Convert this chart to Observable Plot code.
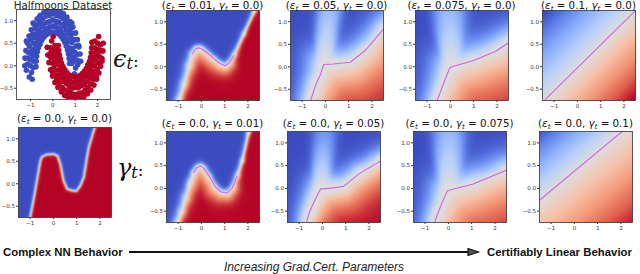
<!DOCTYPE html>
<html><head><meta charset="utf-8">
<script src="https://cdn.jsdelivr.net/npm/d3@7"></script>
<script src="https://cdn.jsdelivr.net/npm/@observablehq/plot@0.6"></script>
<style>
body{margin:0;background:#fff;}
#fig{position:relative;width:640px;height:274px;overflow:hidden;background:#fff;}
#fig svg{position:absolute;}
</style></head><body><div id="fig"></div><script>
// ---------------- data ----------------
const xTicks = [-1, 0, 1, 2];
const yTicks = [-0.5, 0, 0.5, 1.0];
const epsLabels = ["0.01", "0.05", "0.075", "0.1"];
const gamLabels = ["0.01", "0.05", "0.075", "0.1"];

const moonBlue = [[1.02,-0.05],[0.88,0.08],[1.12,0.03],[0.97,-0.18],[0.95,0.18],[1.10,0.12],[0.85,0.05],[1.05,-0.28],
[0.99,0.30],[0.84,0.20],[1.08,0.25],[0.88,0.38],[1.04,0.44],[0.80,0.30],[0.85,0.52],[0.74,0.40],[0.98,0.58],
[0.80,0.63],[0.66,0.52],[0.88,0.72],[0.70,0.72],[0.60,0.60],[0.80,0.82],[0.62,0.80],[0.52,0.68],[0.70,0.92],
[0.50,0.87],[0.44,0.74],[0.58,0.98],[0.40,0.92],[0.34,0.80],[0.45,1.05],[0.26,0.97],[0.22,0.84],[0.30,1.10],
[0.14,0.99],[0.12,0.88],[0.16,1.12],[0.00,1.02],[0.02,0.88],[-0.02,1.15],[-0.14,0.98],[-0.12,0.86],[-0.16,1.12],
[-0.26,0.96],[-0.22,0.83],[-0.30,1.10],[-0.39,0.92],[-0.34,0.80],[-0.45,1.04],[-0.50,0.87],[-0.44,0.74],[-0.58,0.98],
[-0.62,0.79],[-0.53,0.68],[-0.70,0.90],[-0.71,0.71],[-0.60,0.60],[-0.80,0.82],[-0.79,0.62],[-0.68,0.52],[-0.90,0.70],
[-0.87,0.50],[-0.75,0.42],[-0.98,0.58],[-0.93,0.37],[-0.80,0.32],[-1.05,0.44],[-0.97,0.26],[-0.85,0.22],[-1.10,0.30],
[-0.99,0.14],[-0.86,0.10],[-1.12,0.17],[-1.00,0.00],[-0.88,-0.04],[-1.12,0.04],[-0.95,-0.15],[-1.05,-0.25],[-0.92,-0.30],
[-1.18,-0.10],[0.10,1.22],[-0.30,1.20],[0.35,1.18],[0.60,1.05],[-0.60,1.08],[1.15,0.45],[-1.18,0.55],[0.85,0.95],[-0.88,0.95],
[0.75,0.05],[1.25,0.10],[0.73,0.16],[1.22,0.26],[0.70,0.26],[1.17,0.42],[0.66,0.35],[1.10,0.58],[0.60,0.44],[1.02,0.73],
[0.54,0.52],[0.90,0.86],[0.46,0.59],[0.77,0.98],[0.37,0.65],[0.63,1.08],[0.28,0.70],[0.47,1.16],[0.18,0.73],[0.30,1.21],
[0.08,0.75],[0.13,1.24],[-0.03,0.75],[-0.04,1.25],[-0.13,0.74],[-0.22,1.23],[-0.23,0.71],[-0.39,1.19],[-0.33,0.67],[-0.55,1.12],
[-0.42,0.62],[-0.70,1.04],[-0.50,0.56],[-0.84,0.93],[-0.57,0.48],[-0.96,0.80],[-0.64,0.40],[-1.06,0.66],[-0.69,0.31],[-1.14,0.51],
[-0.72,0.21],[-1.20,0.34],[-0.74,0.10],[-1.24,0.17],[-0.75,-0.02],[-1.25,0.00],[0.90,-0.22]];

const moonRed = [[-0.05,0.55],[0.10,0.45],[-0.10,0.40],[0.02,0.65],[0.05,0.34],[-0.08,0.30],[0.14,0.40],
[0.02,0.22],[0.15,0.28],[-0.08,0.18],[0.10,0.10],[0.20,0.18],[-0.02,0.06],[0.12,0.02],[0.26,0.06],[0.03,-0.06],
[0.22,-0.10],[0.34,-0.04],[0.10,-0.20],[0.28,-0.22],[0.40,-0.12],[0.18,-0.30],[0.40,-0.27],[0.48,-0.18],[0.30,-0.38],
[0.50,-0.35],[0.56,-0.25],[0.42,-0.48],[0.62,-0.40],[0.66,-0.30],[0.55,-0.54],[0.74,-0.46],[0.78,-0.34],[0.70,-0.58],
[0.86,-0.50],[0.88,-0.38],[0.84,-0.62],[1.00,-0.48],[1.02,-0.36],[0.98,-0.64],[1.14,-0.49],[1.12,-0.37],[1.16,-0.62],
[1.26,-0.45],[1.22,-0.34],[1.30,-0.60],[1.39,-0.42],[1.34,-0.30],[1.45,-0.54],[1.50,-0.36],[1.44,-0.24],[1.58,-0.48],
[1.62,-0.28],[1.53,-0.18],[1.70,-0.40],[1.71,-0.20],[1.60,-0.10],[1.82,-0.30],[1.79,-0.12],[1.68,-0.02],[1.90,-0.20],
[1.87,0.00],[1.75,0.08],[1.98,-0.08],[1.93,0.12],[1.80,0.18],[2.05,0.06],[1.97,0.24],[1.85,0.28],[2.10,0.20],
[1.99,0.36],[1.86,0.40],[2.12,0.33],[2.00,0.50],[1.88,0.55],[2.12,0.46],[2.05,0.65],[0.90,-0.72],[1.10,-0.70],
[0.60,-0.66],[1.40,-0.66],[0.75,-0.74],[1.25,-0.74],[0.00,-0.15],[1.95,-0.25],[2.20,0.10],
[0.25,0.45],[-0.25,0.41],[0.27,0.34],[-0.22,0.24],[0.30,0.24],[-0.17,0.07],[0.34,0.15],[-0.10,-0.09],[0.39,0.06],[-0.01,-0.23],
[0.46,-0.02],[0.10,-0.37],[0.54,-0.09],[0.23,-0.48],[0.63,-0.15],[0.38,-0.58],[0.72,-0.20],[0.53,-0.66],[0.82,-0.23],[0.70,-0.71],
[0.92,-0.25],[0.87,-0.74],[1.03,-0.25],[1.04,-0.75],[1.13,-0.24],[1.22,-0.73],[1.23,-0.21],[1.39,-0.69],[1.33,-0.17],[1.55,-0.62],
[1.42,-0.12],[1.70,-0.54],[1.50,-0.06],[1.84,-0.43],[1.57,0.02],[1.96,-0.30],[1.64,0.10],[2.06,-0.16],[1.69,0.19],[2.14,-0.01],
[1.72,0.29],[2.20,0.16],[1.74,0.40],[2.24,0.33],[1.75,0.52],[2.25,0.50]];

// decision boundaries (x, y), with blue-side and red-side softness along them
const bE0 = [[-1.0,-0.75],[-0.8,-0.2],[-0.65,0.25],[-0.56,0.51],[-0.49,0.60],[-0.28,0.65],[0.01,0.66],[0.18,0.62],[0.30,0.44],[0.44,0.07],[0.59,-0.11],[0.80,-0.15],[0.99,-0.16],[1.16,-0.04],[1.31,0.15],[1.42,0.51],[1.52,0.81],[1.67,1.07],[1.78,1.25]];
const bsE0 = bE0.map(() => 1.5), rsE0 = bE0.map(() => 1.5);
const bE001 = [[-0.96,-0.75],[-0.74,-0.38],[-0.53,0.03],[-0.39,0.29],[-0.24,0.40],[-0.10,0.42],[0.04,0.39],[0.26,0.30],[0.54,0.18],[0.80,0.07],[1.01,0.02],[1.19,0.08],[1.40,0.25],[1.83,0.73],[2.29,1.25]];
const bsE001 = [5,5,5,4,3,3,3,3,3,3,3,3,3,2.5,2.5];
const rsE001 = [4,5,7,9,10,10,10,10,10,9,8,6,3,2,2];
const bE005 = [[-0.64,-0.75],[-0.54,-0.60],[-0.40,-0.38],[-0.21,-0.17],[-0.07,0.05],[0.36,0.06],[1.07,0.10],[1.71,0.36],[2.5,0.84]];
const bsE005 = [12,12,13,15,20,18,16,15,15];
const rsE005 = [22,24,26,30,34,34,34,34,34];
const pE005 = [-0.07, 0.05, 0.09, 95, 4, 0.14];     // light plume above the kink: x, y, lean, strength, base width, spread
const bE0075 = [[-0.57,-0.75],[-0.43,-0.56],[-0.21,-0.26],[-0.03,-0.03],[0.07,0.0],[1.0,0.14],[1.93,0.34],[2.5,0.53]];
const bsE0075 = [14,14,15,18,22,20,18,17];
const rsE0075 = [28,30,33,38,40,40,40,40];
const pE0075 = [0.02, 0.0, -0.04, 90, 4, 0.2];
const bE01 = [[-1.5,-0.79],[2.5,1.25]];
const bsE01 = [62,62], rsE01 = [62,62];
const bG001 = [[-1.03,-0.75],[-0.86,-0.51],[-0.67,-0.21],[-0.49,0.12],[-0.34,0.35],[-0.17,0.46],[-0.03,0.49],[0.11,0.44],[0.33,0.27],[0.61,0.03],[0.86,-0.08],[1.11,-0.10],[1.33,0.01],[1.54,0.27],[1.76,0.61],[2.04,1.25]];
const bsG001 = [5,5,5,4,3,3,3,3,3,3,3,3,3,3,2.5,2.5];
const rsG001 = [4,5,6,8,10,10,10,10,10,10,9,8,6,3,2,2];
const bG005 = [[-0.69,-0.75],[-0.56,-0.53],[-0.38,-0.32],[-0.21,-0.14],[-0.07,-0.01],[0.28,0.0],[0.90,0.04],[1.60,0.33],[2.5,0.60]];
const bsG005 = [10,10,11,12,15,14,13,12,12];
const rsG005 = [15,16,18,20,22,22,22,22,22];
const pG005 = [-0.07, -0.01, 0.055, 50, 4, 0.17];
const bG0075 = [[-0.59,-0.75],[-0.44,-0.53],[-0.24,-0.28],[-0.05,-0.06],[0.02,-0.04],[1.04,0.09],[2.5,0.40]];
const bsG0075 = [13,13,14,17,20,18,17];
const rsG0075 = [30,32,35,38,40,40,40];
const pG0075 = [0.0, -0.05, 0.0, 90, 4, 0.2];
const bG01 = [[-1.5,-0.26],[2.5,1.44]];
const bsG01 = [55,55], rsG01 = [80,80];

// ---------------- helpers ----------------
const fig = document.getElementById("fig");
const coolwarm = d3.piecewise(d3.interpolateRgb, ["#3b4cc0","#6282ea","#8db0fe","#b8d0f9","#dddddd","#f5c4ac","#f49a7b","#de604d","#b40426"]);
const SX = 23.25, SY = 45;
const XD = [-1.5, 2.5], YD = [-0.75, 1.25];

function makeField(pts, bsoft, rsoft, mode, plume, smooth) {
  const P = pts.map((p, i) => [p[0]*SX, p[1]*SY, bsoft[i], rsoft[i]]);
  const n = P.length, a = P[0], b = P[1], c = P[n-2], e = P[n-1];
  const Q = [[a[0]-(b[0]-a[0])*60, a[1]-(b[1]-a[1])*60, a[2], a[3]], ...P, [e[0]+(e[0]-c[0])*60, e[1]+(e[1]-c[1])*60, e[2], e[3]]];
  const m = Q.length - 1;
  const D = new Float64Array(m), WB = new Float64Array(m), WR = new Float64Array(m);
  return (x, y) => {
    const X = x*SX, Y = y*SY;
    let yb = null;
    for (let i = 0; i < m; i++) {
      const p = Q[i], q = Q[i+1];
      if ((X >= p[0] && X <= q[0]) || (X <= p[0] && X >= q[0])) { const u = (X-p[0])/((q[0]-p[0]) || 1e-9); yb = p[1] + u*(q[1]-p[1]); break; }
    }
    let dmin = Infinity, imin = 0;
    for (let i = 0; i < m; i++) {
      const p = Q[i], q = Q[i+1];
      const vx = q[0]-p[0], vy = q[1]-p[1];
      let u = ((X-p[0])*vx + (Y-p[1])*vy)/(vx*vx + vy*vy);
      u = Math.max(0, Math.min(1, u));
      D[i] = Math.hypot(X-(p[0]+u*vx), Y-(p[1]+u*vy));
      WB[i] = p[2] + u*(q[2]-p[2]); WR[i] = p[3] + u*(q[3]-p[3]);
      if (D[i] < dmin) { dmin = D[i]; imin = i; }
    }
    let d = dmin, wb = WB[imin], wr = WR[imin];
    if (smooth > 0) {
      let sw = 0, sb = 0, sr = 0;
      for (let i = 0; i < m; i++) { const k = Math.exp(-(D[i]-dmin)/smooth); sw += k; sb += k*WB[i]; sr += k*WR[i]; }
      d = Math.max(0, dmin - smooth*Math.log(sw) * 0.6);
      wb = sb/sw; wr = sr/sw;
    }
    if (plume) {
      const dY = Y - plume[1]*SY;
      const dX = X - (plume[0]*SX + plume[2]*Math.max(dY, 0));
      const sig = plume[4] + plume[5]*Math.max(dY, 0);
      const fade = dY > 0 ? 1 : Math.exp(-((dY/6)*(dY/6)));
      wb += plume[3]*Math.exp(-((dX/sig)*(dX/sig)))*fade;
    }
    const red = yb !== null && Y < yb;
    if (mode === "lin") return red ? 0.5 + 0.5*Math.min(1, d/wr) : 0.5 - 0.5*Math.min(1, d/wb);
    return red ? 0.5 + 0.5*Math.tanh(d/wr) : 0.5 - 0.5*Math.tanh(d/wb);
  };
}

function panel(left, top, w, h, xd, yd, marks) {
  const ml = 22, mr = 1, mt = 1, mb = 14;
  const svg = Plot.plot({
    width: w + ml + mr, height: h + mt + mb,
    marginLeft: ml, marginRight: mr, marginTop: mt, marginBottom: mb,
    style: {fontSize: "5.5px", fontFamily: "DejaVu Sans", color: "#333", background: "transparent", overflow: "visible"},
    x: {domain: xd, ticks: xTicks, tickSize: 2, tickPadding: 1.5, label: null, tickFormat: d3.format("d")},
    y: {domain: yd, ticks: yTicks, tickSize: 2, tickPadding: 1.5, label: null, tickFormat: d3.format(".1f")},
    color: {type: "linear", domain: [0, 1], interpolate: coolwarm, clamp: true},
    marks
  });
  svg.style.left = (left - ml) + "px";
  svg.style.top = (top - mt) + "px";
  fig.append(svg);
}

function heat(left, top, w, h, pts, bsoft, rsoft, mode, lineRange, plume, smooth) {
  const marks = [Plot.raster({fill: makeField(pts, bsoft, rsoft, mode, plume, smooth), x1: XD[0], x2: XD[1], y1: YD[0], y2: YD[1], pixelSize: 1})];
  if (lineRange) {
    const seg = pts.filter(p => p[0] >= lineRange[0] && p[0] <= lineRange[1]);
    marks.push(Plot.line(seg, {x: d => d[0], y: d => d[1], stroke: "#d462dc", strokeWidth: 1.1, clip: true}));
  }
  marks.push(Plot.frame({stroke: "#333", strokeWidth: 0.8}));
  panel(left, top, w, h, XD, YD, marks);
}

// ---------------- scatter ----------------
panel(16, 9, 94, 90, [-1.62, 2.58], YD, [
  Plot.dot(moonBlue, {x: d => d[0], y: d => d[1], r: 2.8, fill: "#3b4cc0", clip: true}),
  Plot.dot(moonRed, {x: d => d[0], y: d => d[1], r: 2.8, fill: "#b40426", clip: true}),
  Plot.frame({stroke: "#333", strokeWidth: 0.8})
]);

// ---------------- heatmaps ----------------
const ALL = [-9, 9];
heat(166, 10, 93, 90, bE001, bsE001, rsE001, "tanh", [-0.45, 1.45], null, 2);
heat(290, 10, 93, 90, bE005, bsE005, rsE005, "tanh", ALL, pE005, 6);
heat(415, 10, 93, 90, bE0075, bsE0075, rsE0075, "tanh", ALL, pE0075, 6);
heat(542, 10, 93, 90, bE01, bsE01, rsE01, "lin", ALL, null, 0);

heat(18, 127, 93, 90, bE0, bsE0, rsE0, "tanh", null, null, 0);
heat(166, 131, 93, 91, bG001, bsG001, rsG001, "tanh", [-0.45, 1.6], null, 2);
heat(287, 131, 93, 91, bG005, bsG005, rsG005, "tanh", ALL, pG005, 6);
heat(413, 131, 93, 91, bG0075, bsG0075, rsG0075, "tanh", ALL, pG0075, 6);
heat(539, 131, 93, 91, bG01, bsG01, rsG01, "lin", ALL, null, 0);

// ---------------- text overlay ----------------
const ov = d3.create("svg").attr("width", 640).attr("height", 274).style("left", "0px").style("top", "0px");
function mathTitle(cx, y, e, g) {
  const t = ov.append("text").attr("x", cx).attr("y", y).attr("text-anchor", "middle")
    .attr("font-family", "DejaVu Sans").attr("font-size", 10.3).attr("fill", "#111");
  t.append("tspan").text("(");
  t.append("tspan").attr("font-style", "italic").text("ε");
  t.append("tspan").attr("font-style", "italic").attr("font-size", 7).attr("dy", 2).text("t");
  t.append("tspan").attr("dy", -2).text(" = " + e + ", ");
  t.append("tspan").attr("font-style", "italic").text("γ");
  t.append("tspan").attr("font-style", "italic").attr("font-size", 7).attr("dy", 2).text("t");
  t.append("tspan").attr("dy", -2).text(" = " + g + ")");
}
const topLefts = [166, 290, 415, 542], botLefts = [166, 287, 413, 539];
epsLabels.forEach((e, i) => mathTitle(topLefts[i] + 46.5, 8.6, e, "0.0"));
gamLabels.forEach((g, i) => mathTitle(botLefts[i] + 46.5, 126.5, "0.0", g));
mathTitle(64.5, 121.5, "0.0", "0.0");
ov.append("text").attr("x", 63).attr("y", 8.6).attr("text-anchor", "middle").attr("font-family", "DejaVu Sans")
  .attr("font-size", 10.3).attr("fill", "#222").text("Halfmoons Dataset");

function rowLabel(x, y, sym) {
  const t = ov.append("text").attr("x", x).attr("y", y).attr("font-family", "DejaVu Serif").attr("fill", "#111");
  t.append("tspan").attr("font-size", 24).attr("font-style", "italic").text(sym);
  t.append("tspan").attr("font-size", 16).attr("font-style", "italic").attr("dy", 2).text("t");
  t.append("tspan").attr("font-size", 17).attr("dy", -2).text(":");
}
rowLabel(113, 67, "ϵ");
rowLabel(117, 176, "γ");

ov.append("text").attr("x", 3).attr("y", 256).attr("font-family", "Liberation Sans").attr("font-weight", "bold")
  .attr("font-size", 11.4).attr("fill", "#111").text("Complex NN Behavior");
ov.append("text").attr("x", 487).attr("y", 256).attr("font-family", "Liberation Sans").attr("font-weight", "bold")
  .attr("font-size", 11.4).attr("fill", "#111").text("Certifiably Linear Behavior");
ov.append("text").attr("x", 314).attr("y", 271).attr("text-anchor", "middle").attr("font-family", "Liberation Sans")
  .attr("font-style", "italic").attr("font-size", 12).attr("fill", "#222").text("Increasing Grad.Cert. Parameters");
ov.append("line").attr("x1", 129).attr("x2", 470).attr("y1", 252).attr("y2", 252).attr("stroke", "#111").attr("stroke-width", 1.8);
ov.append("path").attr("d", "M468,248.5 L478.5,252 L468,255.5 Z").attr("fill", "#555").attr("stroke", "#111").attr("stroke-width", 1.2);
fig.append(ov.node());
</script></body></html>
